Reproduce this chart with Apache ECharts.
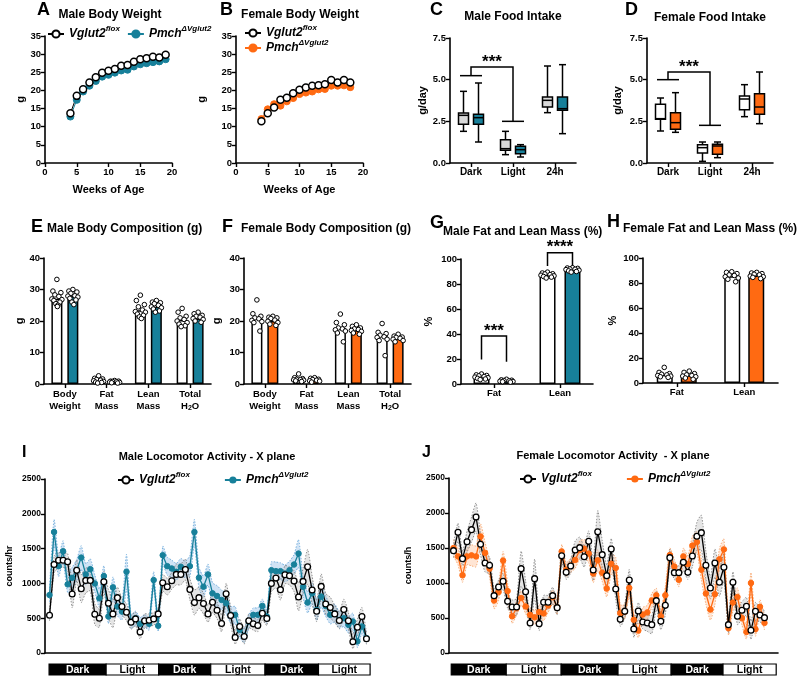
<!DOCTYPE html>
<html>
<head>
<meta charset="utf-8">
<script src="https://cdn.jsdelivr.net/npm/echarts@6/dist/echarts.min.js"></script>
<style>
  html, body { margin: 0; padding: 0; background: #fff; }
  #chart { width: 798px; height: 678px; }
</style>
</head>
<body>
<div id="chart"></div>
<script>
const TEAL = '#17809a';
const ORANGE = '#ff6a12';
const FONT = '"Liberation Sans", Arial, sans-serif';

// A / B body weight (g)
const weeksMale = [4, 5, 6, 7, 8, 9, 10, 11, 12, 13, 14, 15, 16, 17, 18, 19];
const maleFloxBW = [13.7, 18.5, 20.3, 22.2, 23.6, 24.9, 25.4, 25.9, 26.8, 27.0, 27.9, 28.6, 28.9, 29.3, 29.1, 29.8];
const malePmchBW = [12.8, 17.4, 19.7, 21.3, 22.6, 23.8, 24.3, 24.9, 25.5, 25.7, 26.6, 27.2, 27.5, 27.8, 28.0, 28.6];
const weeksFemale = [4, 5, 6, 7, 8, 9, 10, 11, 12, 13, 14, 15, 16, 17, 18];
const femFloxBW = [11.5, 13.7, 15.3, 17.4, 18.0, 19.2, 20.2, 20.8, 21.3, 21.4, 21.7, 22.9, 22.2, 22.9, 22.2];
const femPmchBW = [12.1, 14.8, 16.2, 15.8, 17.0, 17.9, 19.0, 19.4, 19.7, 20.3, 20.4, 21.3, 21.3, 21.4, 20.9];

// C / D food intake, [min, q1, median, q3, max]
const periods = ['Dark', 'Light', '24h'];
const foodMaleFlox = [[1.9, 2.32, 2.86, 3.0, 4.3], [0.5, 0.76, 0.86, 1.4, 1.9], [3.02, 3.36, 3.76, 3.96, 5.82]];
const foodMalePmch = [[1.26, 2.32, 2.72, 2.92, 4.8], [0.36, 0.56, 0.8, 1.0, 1.1], [1.76, 3.16, 3.26, 3.96, 5.9]];
const foodFemFlox = [[1.92, 2.62, 2.66, 3.52, 3.9], [0.1, 0.6, 0.92, 1.1, 1.26], [2.78, 3.2, 3.84, 4.02, 4.7]];
const foodFemPmch = [[1.84, 2.02, 2.42, 3.02, 4.22], [0.32, 0.52, 1.02, 1.12, 1.26], [2.36, 2.92, 3.36, 4.16, 5.46]];
const sigFoodMale = {from: 0, to: 1, yFrom: 5.24, yTop: 5.76, yTo: 2.5, labelY: 6.3, label: '***'};
const sigFoodFem = {from: 0, to: 1, yFrom: 5.0, yTop: 5.46, yTo: 2.26, labelY: 6.0, label: '***'};

// E / F body composition (g)
const compCats = ['Body Weight', 'Fat Mass', 'Lean Mass', 'Total H2O'];
const compMaleFlox = [27.1, 1.1, 23.4, 20.3];
const compMalePmch = [27.9, 0.7, 24.5, 20.8];
const compFemFlox = [20.9, 1.5, 17.8, 15.5];
const compFemPmch = [20.0, 1.2, 17.1, 14.5];
const ptsMaleFlox = [
  [33.2, 29.5, 29.0, 28.3, 27.8, 27.0, 26.8, 26.5, 26.0, 25.5, 25.0, 24.6],
  [2.6, 1.8, 1.6, 1.4, 1.2, 1.0, 0.8, 0.6, 0.5, 0.3],
  [28.2, 26.5, 25.2, 24.5, 23.5, 23.0, 22.8, 22.2, 21.8, 21.3, 20.8],
  [24.0, 22.8, 21.5, 21.0, 20.5, 20.0, 19.5, 19.0, 18.5, 18.2]];
const ptsMalePmch = [
  [30.0, 29.5, 29.2, 28.8, 28.0, 27.9, 27.6, 27.2, 26.7, 26.0, 25.2],
  [1.1, 0.9, 0.9, 0.8, 0.7, 0.6, 0.5, 0.4, 0.3],
  [26.5, 26.0, 25.8, 25.5, 25.0, 24.5, 24.2, 23.8, 23.2, 22.8],
  [22.8, 22.3, 21.8, 21.5, 21.2, 20.8, 20.5, 20.0, 19.6]];
const ptsFemFlox = [
  [26.7, 22.3, 21.5, 21.0, 20.7, 20.2, 19.8, 19.5, 16.8],
  [3.2, 2.0, 1.7, 1.5, 1.4, 1.3, 1.2, 1.0, 0.8],
  [22.2, 19.5, 18.8, 17.8, 17.5, 17.2, 16.8, 16.2, 13.4],
  [19.2, 16.4, 16.0, 15.5, 15.0, 14.8, 14.2, 13.8, 9.0]];
const ptsFemPmch = [
  [21.5, 21.2, 21.0, 20.8, 20.3, 19.9, 19.5, 19.0, 18.6],
  [2.0, 1.8, 1.5, 1.4, 1.2, 1.0, 0.9, 0.6],
  [18.8, 18.3, 17.8, 17.5, 17.3, 17.0, 16.7, 16.2, 15.8],
  [15.8, 15.2, 14.9, 14.8, 14.5, 14.2, 13.8, 13.4]];

// G / H fat and lean mass (%)
const pctCats = ['Fat', 'Lean'];
const pctMaleFlox = [5.8, 87.3];
const pctMalePmch = [2.6, 91.3];
const pctFemFlox = [6.6, 85.5];
const pctFemPmch = [6.0, 86.1];
const ptsPctMaleFlox = [[8.0, 7.3, 6.8, 6.5, 6.0, 5.5, 5.0, 4.5, 4.0, 3.5], [89.5, 88.8, 88.2, 88.0, 87.5, 87.0, 86.5, 86.0, 85.5, 84.8]];
const ptsPctMalePmch = [[3.8, 3.3, 3.0, 2.8, 2.5, 2.2, 2.0, 1.8, 1.5], [93.0, 92.8, 92.5, 92.0, 91.8, 91.5, 91.0, 90.5, 90.0, 89.5]];
const ptsPctFemFlox = [[12.5, 8.5, 7.5, 7.0, 6.5, 6.0, 5.5, 5.0, 4.5], [89.0, 88.5, 87.5, 86.5, 86.0, 85.0, 84.0, 83.0, 81.0]];
const ptsPctFemPmch = [[9.5, 8.5, 7.5, 6.5, 6.0, 5.5, 5.0, 4.0, 3.0], [88.5, 88.0, 87.5, 87.0, 86.5, 85.5, 85.0, 84.5, 83.5]];
const sigPctMale = [
  {cat: 0, yL: 19.7, yR: 17.9, yTop: 38.4, labelY: 45.5, label: '***'},
  {cat: 1, yL: 94.4, yR: 94.4, yTop: 105, labelY: 112.5, label: '****'}];

// I / J locomotor activity, counts per hour
const locoMaleFlox = [543, 1271, 1333, 1333, 1310, 848, 1190, 924, 1043, 1043, 557, 500, 1024, 714, 562, 795, 667, 586, 443, 490, 300, 462, 471, 490, 562, 1010, 952, 1038, 1129, 1129, 1200, 914, 724, 795, 710, 562, 729, 614, 424, 852, 538, 224, 381, 238, 462, 419, 395, 571, 495, 1000, 1076, 910, 1124, 1110, 1033, 805, 1029, 1238, 905, 600, 957, 705, 652, 562, 467, 624, 462, 162, 371, 524, 205];
const semMaleFlox = [80, 120, 110, 100, 120, 200, 150, 200, 180, 150, 150, 130, 150, 200, 200, 150, 120, 120, 100, 100, 100, 100, 90, 90, 90, 120, 120, 120, 150, 150, 150, 150, 180, 150, 150, 120, 150, 120, 120, 150, 120, 100, 110, 110, 100, 90, 90, 100, 100, 120, 140, 150, 130, 130, 150, 200, 180, 250, 200, 150, 180, 150, 150, 120, 120, 150, 120, 100, 120, 130, 80];
const locoMalePmch = [833, 1738, 1248, 1462, 986, 1080, 1190, 1371, 1129, 1205, 1000, 786, 1105, 524, 943, 667, 595, 1167, 452, 500, 419, 462, 419, 1048, 390, 1405, 1248, 1214, 1167, 1238, 1200, 1248, 1738, 1081, 952, 1129, 857, 819, 762, 714, 548, 548, 333, 248, 452, 548, 548, 676, 524, 1190, 1176, 1176, 1143, 1190, 1271, 1429, 952, 724, 857, 619, 810, 676, 548, 571, 476, 500, 405, 452, 167, 381, 214];
const semMalePmch = [100, 180, 150, 150, 120, 150, 150, 170, 150, 150, 120, 130, 150, 100, 150, 130, 120, 250, 100, 100, 90, 90, 90, 120, 80, 130, 130, 120, 120, 120, 120, 150, 180, 150, 150, 150, 150, 150, 140, 150, 120, 120, 110, 100, 100, 100, 100, 100, 100, 120, 130, 120, 120, 130, 140, 200, 150, 150, 150, 150, 150, 150, 130, 130, 120, 120, 120, 120, 90, 100, 80];
const locoFemFlox = [1462, 1724, 1348, 1590, 1762, 1943, 1552, 1286, 1252, 819, 943, 1024, 738, 657, 657, 1205, 876, 429, 1062, 419, 724, 724, 819, 648, 1390, 1152, 1243, 1471, 1505, 1376, 1595, 1186, 1733, 1405, 1105, 1486, 914, 481, 595, 1043, 343, 600, 443, 429, 405, 748, 452, 681, 1362, 1148, 1148, 1295, 1152, 1386, 1667, 1719, 1252, 929, 1286, 1010, 1224, 405, 1010, 524, 610, 667, 324, 595, 543, 505];
const semFemFlox = [100, 130, 100, 150, 180, 200, 150, 130, 120, 100, 100, 120, 100, 100, 120, 250, 150, 100, 280, 100, 100, 100, 120, 100, 100, 100, 100, 130, 150, 150, 150, 150, 300, 200, 150, 150, 150, 100, 100, 150, 120, 120, 100, 120, 130, 130, 120, 130, 120, 100, 100, 120, 100, 150, 200, 250, 200, 150, 200, 200, 200, 120, 150, 120, 120, 130, 130, 130, 100, 100];
const locoFemPmch = [1500, 1380, 1110, 1380, 1395, 1380, 1665, 1430, 1205, 750, 870, 1320, 885, 525, 640, 785, 665, 545, 510, 585, 565, 680, 800, 650, 1450, 1190, 1250, 1330, 1470, 1490, 1420, 1135, 1325, 1145, 920, 1275, 1215, 570, 590, 930, 475, 320, 550, 580, 750, 825, 525, 825, 1400, 1235, 1045, 1380, 1270, 1535, 1585, 1190, 850, 620, 840, 1340, 1480, 355, 720, 800, 500, 300, 1000, 340, 660, 430];
const semFemPmch = [120, 120, 100, 120, 150, 150, 180, 150, 120, 120, 120, 130, 120, 100, 100, 100, 100, 100, 100, 100, 100, 100, 100, 100, 100, 100, 100, 120, 130, 130, 130, 130, 150, 120, 120, 150, 150, 120, 100, 120, 100, 100, 100, 100, 100, 100, 100, 120, 100, 100, 100, 120, 120, 130, 150, 150, 150, 150, 150, 150, 150, 100, 120, 130, 100, 100, 150, 100, 100, 100];
const phaseLabels = ['Dark', 'Light', 'Dark', 'Light', 'Dark', 'Light'];
const phaseEdgesMale = [-0.1, 12.5, 24.1, 35.6, 47.6, 59.4, 70.8];
const phaseEdgesFem = [-0.5, 11.7, 23.9, 36.5, 48.3, 59.8, 71.6];

// ---------- helpers ----------
function merge(a, b) {
  const out = Object.assign({}, a);
  for (const k in b) {
    if (b[k] && typeof b[k] === 'object' && !Array.isArray(b[k]) && a[k] && typeof a[k] === 'object') {
      out[k] = merge(a[k], b[k]);
    } else {
      out[k] = b[k];
    }
  }
  return out;
}

const axisBase = {
  axisLine: {show: true, onZero: false, lineStyle: {color: '#000', width: 1.6}},
  axisTick: {show: true, length: 4, lineStyle: {color: '#000', width: 1.4}},
  axisLabel: {color: '#000', fontSize: 9.5, fontWeight: 'bold', fontFamily: FONT, margin: 4},
  splitLine: {show: false},
  nameLocation: 'middle',
  nameTextStyle: {color: '#000', fontSize: 11, fontWeight: 'bold', fontFamily: FONT}
};

const grids = [
  {left: 45, top: 36, width: 127, height: 127},   // A
  {left: 236, top: 36, width: 127, height: 127},  // B
  {left: 450, top: 38, width: 126, height: 125},  // C
  {left: 647, top: 38, width: 126, height: 125},  // D
  {left: 44, top: 258, width: 167, height: 126},  // E
  {left: 244, top: 258, width: 167, height: 126}, // F
  {left: 461, top: 259, width: 132, height: 125}, // G
  {left: 643, top: 258, width: 135, height: 125}, // H
  {left: 45, top: 479, width: 326, height: 174},  // I
  {left: 449, top: 478, width: 329, height: 175}  // J
];

const compLabelRich = {
  t: {fontSize: 9.5, fontWeight: 'bold', fontFamily: FONT, color: '#000', lineHeight: 12},
  sub: {fontSize: 7, fontWeight: 'bold', fontFamily: FONT, color: '#000', lineHeight: 8, verticalAlign: 'bottom'}
};
function compLabel(v) {
  const parts = v.split(' ');
  const second = parts[1] === 'H2O' ? '{t|H}{sub|2}{t|O}' : '{t|' + parts[1] + '}';
  return '{t|' + parts[0] + '}\n' + second;
}

const xAxes = [
  merge(axisBase, {gridIndex: 0, type: 'value', min: 0, max: 20, interval: 5, name: 'Weeks of Age', nameGap: 21}),
  merge(axisBase, {gridIndex: 1, type: 'value', min: 0, max: 20, interval: 5, name: 'Weeks of Age', nameGap: 21}),
  merge(axisBase, {gridIndex: 2, type: 'category', data: periods, axisTick: {alignWithLabel: true}, axisLabel: {fontSize: 10}}),
  merge(axisBase, {gridIndex: 3, type: 'category', data: periods, axisTick: {alignWithLabel: true}, axisLabel: {fontSize: 10}}),
  merge(axisBase, {gridIndex: 4, type: 'category', data: compCats, axisTick: {alignWithLabel: true, interval: 0}, axisLabel: {interval: 0, formatter: compLabel, rich: compLabelRich}}),
  merge(axisBase, {gridIndex: 5, type: 'category', data: compCats, axisTick: {alignWithLabel: true, interval: 0}, axisLabel: {interval: 0, formatter: compLabel, rich: compLabelRich}}),
  merge(axisBase, {gridIndex: 6, type: 'category', data: pctCats, axisTick: {alignWithLabel: true}}),
  merge(axisBase, {gridIndex: 7, type: 'category', data: pctCats, axisTick: {alignWithLabel: true}}),
  merge(axisBase, {gridIndex: 8, type: 'value', min: -1, max: 71, axisTick: {show: false}, axisLabel: {show: false}}),
  merge(axisBase, {gridIndex: 9, type: 'value', min: -1, max: 72, axisTick: {show: false}, axisLabel: {show: false}})
];

const oneDecimal = {formatter: v => v.toFixed(1)};
const bigY = {axisLabel: {fontSize: 8.5, formatter: v => String(v)}, nameTextStyle: {fontSize: 9}};
const yAxes = [
  merge(axisBase, {gridIndex: 0, type: 'value', min: 0, max: 35, interval: 5, name: 'g', nameRotate: 90, nameGap: 19}),
  merge(axisBase, {gridIndex: 1, type: 'value', min: 0, max: 35, interval: 5, name: 'g', nameRotate: 90, nameGap: 29}),
  merge(axisBase, {gridIndex: 2, type: 'value', min: 0, max: 7.5, interval: 2.5, name: 'g/day', nameRotate: 90, nameGap: 21, axisLabel: oneDecimal}),
  merge(axisBase, {gridIndex: 3, type: 'value', min: 0, max: 7.5, interval: 2.5, name: 'g/day', nameRotate: 90, nameGap: 24, axisLabel: oneDecimal}),
  merge(axisBase, {gridIndex: 4, type: 'value', min: 0, max: 40, interval: 10, name: 'g', nameRotate: 90, nameGap: 19}),
  merge(axisBase, {gridIndex: 5, type: 'value', min: 0, max: 40, interval: 10, name: 'g', nameRotate: 90, nameGap: 22}),
  merge(axisBase, {gridIndex: 6, type: 'value', min: 0, max: 100, interval: 20, name: '%', nameRotate: 90, nameGap: 27}),
  merge(axisBase, {gridIndex: 7, type: 'value', min: 0, max: 100, interval: 20, name: '%', nameRotate: 90, nameGap: 25}),
  merge(merge(axisBase, bigY), {gridIndex: 8, type: 'value', min: 0, max: 2500, interval: 500, name: 'counts/hr', nameRotate: 90, nameGap: 31}),
  merge(merge(axisBase, bigY), {gridIndex: 9, type: 'value', min: 0, max: 2500, interval: 500, name: 'counts/h', nameRotate: 90, nameGap: 36})
];

// ---------- series builders ----------
function weightLine(gi, name, weeks, vals, color, open) {
  return {
    type: 'line', name, xAxisIndex: gi, yAxisIndex: gi,
    data: weeks.map((w, i) => [w, vals[i]]),
    symbol: 'circle', symbolSize: 7,
    itemStyle: open ? {color: '#fff', borderColor: '#000', borderWidth: 1.5} : {color, borderColor: color, borderWidth: 1},
    lineStyle: {color: open ? '#000' : color, width: 1}
  };
}

function boxSeries(gi, rows, side, fill) {
  return {
    type: 'custom', xAxisIndex: gi, yAxisIndex: gi, clip: false,
    data: rows.map((r, i) => [i].concat(r)),
    encode: {x: 0, y: [1, 2, 3, 4, 5]},
    renderItem(params, api) {
      const c = api.value(0);
      const x = api.coord([c, 0])[0] + side * 7.5;
      const py = k => api.coord([c, api.value(k)])[1];
      const lo = py(1), q1 = py(2), med = py(3), q3 = py(4), hi = py(5);
      const hw = 5, cw = 3.5;
      const ls = {stroke: '#000', lineWidth: 1.5};
      return {type: 'group', children: [
        {type: 'line', shape: {x1: x, y1: hi, x2: x, y2: q3}, style: ls},
        {type: 'line', shape: {x1: x, y1: q1, x2: x, y2: lo}, style: ls},
        {type: 'line', shape: {x1: x - cw, y1: hi, x2: x + cw, y2: hi}, style: ls},
        {type: 'line', shape: {x1: x - cw, y1: lo, x2: x + cw, y2: lo}, style: ls},
        {type: 'rect', shape: {x: x - hw, y: q3, width: 2 * hw, height: q1 - q3}, style: {fill, stroke: '#000', lineWidth: 1.5}},
        {type: 'line', shape: {x1: x - hw, y1: med, x2: x + hw, y2: med}, style: ls}
      ]};
    }
  };
}

function starText(x, y, text) {
  return {type: 'text', x, y: y + 4, style: {text, fill: '#000', font: 'bold 17px ' + FONT,
    align: 'center', verticalAlign: 'middle', textAlign: 'center', textVerticalAlign: 'middle'}};
}

function foodBracket(gi, b) {
  return {
    type: 'custom', xAxisIndex: gi, yAxisIndex: gi, clip: false, silent: true,
    data: [[b.from, b.to, b.yFrom, b.yTop, b.yTo, b.labelY]],
    encode: {x: [0, 1], y: [2, 3, 4, 5]},
    renderItem(params, api) {
      const a = api.coord([api.value(0), api.value(2)]);
      const t0 = api.coord([api.value(0), api.value(3)]);
      const t1 = api.coord([api.value(1), api.value(3)]);
      const e = api.coord([api.value(1), api.value(4)]);
      const lab = api.coord([api.value(0), api.value(5)]);
      const hw = 11;
      const ls = {stroke: '#000', lineWidth: 1.5, fill: null};
      return {type: 'group', children: [
        {type: 'polyline', shape: {points: [[a[0] - hw, a[1]], [a[0] + hw, a[1]]]}, style: ls},
        {type: 'polyline', shape: {points: [a, t0, t1, e]}, style: ls},
        {type: 'polyline', shape: {points: [[e[0] - hw, e[1]], [e[0] + hw, e[1]]]}, style: ls},
        starText((t0[0] + t1[0]) / 2, lab[1], b.label)
      ]};
    }
  };
}

function pctBracket(gi, list, shift) {
  return {
    type: 'custom', xAxisIndex: gi, yAxisIndex: gi, clip: false, silent: true,
    data: list.map(b => [b.cat, b.yL, b.yR, b.yTop, b.labelY]),
    encode: {x: 0, y: [1, 2, 3, 4]},
    renderItem(params, api) {
      const c = api.value(0);
      const L = api.coord([c, api.value(1)]);
      const R = api.coord([c, api.value(2)]);
      const T = api.coord([c, api.value(3)]);
      const lab = api.coord([c, api.value(4)]);
      const ls = {stroke: '#000', lineWidth: 1.5, fill: null};
      return {type: 'group', children: [
        {type: 'polyline', shape: {points: [[T[0] - shift, L[1]], [T[0] - shift, T[1]], [T[0] + shift, T[1]], [T[0] + shift, R[1]]]}, style: ls},
        starText(T[0], lab[1], list[params.dataIndex].label)
      ]};
    }
  };
}

function barSeries(gi, vals, color, width, gap) {
  return {
    type: 'bar', xAxisIndex: gi, yAxisIndex: gi, data: vals,
    barWidth: width, barGap: gap,
    itemStyle: {color, borderColor: '#000', borderWidth: 1.5}
  };
}

const JIT = [0, -0.8, 0.8, -0.4, 0.4, -1, 1, -0.6, 0.6, -0.2, 0.2, 0.1];
function dotSeries(gi, groups, shift, spread, r) {
  const data = [];
  groups.forEach((vals, c) => vals.forEach((v, k) => data.push([c, v, k])));
  return {
    type: 'custom', xAxisIndex: gi, yAxisIndex: gi, clip: false, z: 5,
    data, encode: {x: 0, y: 1},
    renderItem(params, api) {
      const p = api.coord([api.value(0), api.value(1)]);
      const k = api.value(2);
      return {type: 'circle', shape: {cx: p[0] + shift + JIT[k % JIT.length] * spread, cy: p[1], r},
        style: {fill: '#fff', stroke: '#000', lineWidth: 1}};
    }
  };
}

// SEM band: one polygon drawn from all the items of the series
function bandSeries(gi, vals, sem, fill, edge) {
  return {
    type: 'custom', xAxisIndex: gi, yAxisIndex: gi, silent: true,
    data: vals.map((v, i) => [i, v - sem[i], v + sem[i]]),
    encode: {x: 0, y: [1, 2]},
    renderItem(params, api) {
      if (params.dataIndexInside !== 0) return null;
      const n = params.dataInsideLength;
      const up = [], lo = [];
      for (let i = 0; i < n; i++) {
        up.push(api.coord([api.value(0, i), api.value(2, i)]));
        lo.push(api.coord([api.value(0, i), api.value(1, i)]));
      }
      const edgeStyle = {stroke: edge, lineWidth: 0.8, lineDash: [1.5, 1.5], fill: null};
      return {type: 'group', children: [
        {type: 'polygon', shape: {points: up.concat(lo.slice().reverse())}, style: {fill, stroke: null}},
        {type: 'polyline', shape: {points: up, smooth: 0.2}, style: edgeStyle},
        {type: 'polyline', shape: {points: lo, smooth: 0.2}, style: edgeStyle}
      ]};
    }
  };
}

function locoLine(gi, name, vals, color, open) {
  return {
    type: 'line', name, xAxisIndex: gi, yAxisIndex: gi,
    data: vals.map((v, i) => [i, v]),
    symbol: 'circle', symbolSize: open ? 5.8 : 5.5,
    itemStyle: open ? {color: '#fff', borderColor: '#000', borderWidth: 1.3} : {color, borderColor: color},
    lineStyle: {color: open ? '#000' : color, width: 1.3}
  };
}

function phaseSeries(gi, edges) {
  return {
    type: 'custom', xAxisIndex: gi, yAxisIndex: gi, clip: false, silent: true,
    data: phaseLabels.map((lab, i) => [edges[i], edges[i + 1], i]),
    encode: {x: [0, 1]},
    renderItem(params, api) {
      const a = api.coord([api.value(0), 0]);
      const b = api.coord([api.value(1), 0]);
      const dark = phaseLabels[api.value(2)] === 'Dark';
      const y = a[1] + 11, h = 11;
      return {type: 'group', children: [
        {type: 'rect', shape: {x: a[0], y, width: b[0] - a[0], height: h},
          style: {fill: dark ? '#000' : '#fff', stroke: '#000', lineWidth: 1.2}},
        {type: 'text', x: (a[0] + b[0]) / 2, y: y + h / 2 + 0.5,
          style: {text: phaseLabels[api.value(2)], fill: dark ? '#fff' : '#000', font: 'bold 10.5px ' + FONT,
            align: 'center', verticalAlign: 'middle', textAlign: 'center', textVerticalAlign: 'middle'}}
      ]};
    }
  };
}

// ---------- legends ----------
const legendRich = {
  i: {fontFamily: FONT, fontSize: 12, fontWeight: 'bold', fontStyle: 'italic', color: '#000', lineHeight: 18},
  s: {fontFamily: FONT, fontSize: 8, fontWeight: 'bold', fontStyle: 'italic', color: '#000', lineHeight: 9, verticalAlign: 'top'}
};
function legendFmt(name) {
  return name.charAt(0) === 'w' ? '{i|Vglut2}{s|flox}' : '{i|Pmch}{s|\u0394Vglut2}';
}
function legendAt(names, left, top, orient, gap) {
  return {data: names, left, top, orient, itemGap: gap, itemWidth: 16, itemHeight: 9,
    padding: 0, formatter: legendFmt, textStyle: {rich: legendRich}, selectedMode: false};
}

// ---------- titles ----------
function txt(x, y, text, size, align) {
  return {type: 'text', x, y, silent: true,
    style: {text, fill: '#000', font: 'bold ' + size + 'px ' + FONT,
      align: align || 'left', verticalAlign: 'middle', textAlign: align || 'left', textVerticalAlign: 'middle'}};
}
const graphics = [
  txt(37, 10, 'A', 18), txt(110, 15, 'Male Body Weight', 12, 'center'),
  txt(220, 10, 'B', 18), txt(300, 15, 'Female Body Weight', 12, 'center'),
  txt(430, 10, 'C', 18), txt(513, 17, 'Male Food Intake', 12, 'center'),
  txt(625, 10, 'D', 18), txt(710, 18, 'Female Food Intake', 12, 'center'),
  txt(31, 227, 'E', 18), txt(47, 229, 'Male Body Composition (g)', 12),
  txt(222, 227, 'F', 18), txt(241, 229, 'Female Body Composition (g)', 12),
  txt(430, 223, 'G', 18), txt(443, 232, 'Male Fat and Lean Mass (%)', 12),
  txt(607, 222, 'H', 18), txt(623, 229, 'Female Fat and Lean Mass (%)', 12),
  txt(22, 453, 'I', 16), txt(207, 457, 'Male Locomotor Activity - X plane', 11, 'center'),
  txt(422, 453, 'J', 16), txt(613, 456, 'Female Locomotor Activity  - X plane', 11, 'center')
];

const series = [
  weightLine(0, 'tA', weeksMale, malePmchBW, TEAL, false),
  weightLine(0, 'wA', weeksMale, maleFloxBW, '#000', true),
  weightLine(1, 'oB', weeksFemale, femPmchBW, ORANGE, false),
  weightLine(1, 'wB', weeksFemale, femFloxBW, '#000', true),

  boxSeries(2, foodMaleFlox, -1, '#d9d9d9'),
  boxSeries(2, foodMalePmch, 1, TEAL),
  foodBracket(2, sigFoodMale),
  boxSeries(3, foodFemFlox, -1, '#fff'),
  boxSeries(3, foodFemPmch, 1, ORANGE),
  foodBracket(3, sigFoodFem),

  barSeries(4, compMaleFlox, '#fff', 11, '45%'),
  barSeries(4, compMalePmch, TEAL, 11, '45%'),
  dotSeries(4, ptsMaleFlox, -8, 5, 2.3),
  dotSeries(4, ptsMalePmch, 8, 5, 2.3),
  barSeries(5, compFemFlox, '#fff', 11, '45%'),
  barSeries(5, compFemPmch, ORANGE, 11, '45%'),
  dotSeries(5, ptsFemFlox, -8, 5, 2.3),
  dotSeries(5, ptsFemPmch, 8, 5, 2.3),

  barSeries(6, pctMaleFlox, '#fff', 16, '56%'),
  barSeries(6, pctMalePmch, TEAL, 16, '56%'),
  dotSeries(6, ptsPctMaleFlox, -12.5, 6.5, 2.3),
  dotSeries(6, ptsPctMalePmch, 12.5, 6.5, 2.3),
  pctBracket(6, sigPctMale, 12.5),
  barSeries(7, pctFemFlox, '#fff', 16, '50%'),
  barSeries(7, pctFemPmch, ORANGE, 16, '50%'),
  dotSeries(7, ptsPctFemFlox, -12.5, 6.5, 2.3),
  dotSeries(7, ptsPctFemPmch, 12.5, 6.5, 2.3),

  bandSeries(8, locoMalePmch, semMalePmch, 'rgba(120,175,225,0.35)', '#5a9fd6'),
  locoLine(8, 'tI', locoMalePmch, TEAL, false),
  bandSeries(8, locoMaleFlox, semMaleFlox, 'rgba(150,150,150,0.25)', '#777'),
  locoLine(8, 'wI', locoMaleFlox, '#000', true),
  phaseSeries(8, phaseEdgesMale),

  bandSeries(9, locoFemPmch, semFemPmch, 'rgba(255,160,100,0.28)', '#f59a5a'),
  locoLine(9, 'oJ', locoFemPmch, ORANGE, false),
  bandSeries(9, locoFemFlox, semFemFlox, 'rgba(150,150,150,0.25)', '#777'),
  locoLine(9, 'wJ', locoFemFlox, '#000', true),
  phaseSeries(9, phaseEdgesFem)
];

const chart = echarts.init(document.getElementById('chart'));
chart.setOption({
  animation: false,
  backgroundColor: '#fff',
  textStyle: {fontFamily: FONT},
  grid: grids,
  xAxis: xAxes,
  yAxis: yAxes,
  legend: [
    legendAt(['wA', 'tA'], 47, 25, 'horizontal', 7),
    legendAt(['wB', 'oB'], 244, 24, 'vertical', 0),
    legendAt(['wI', 'tI'], 117, 471, 'horizontal', 34),
    legendAt(['wJ', 'oJ'], 519, 470, 'horizontal', 34)
  ],
  graphic: graphics,
  series
});
</script>
</body>
</html>
